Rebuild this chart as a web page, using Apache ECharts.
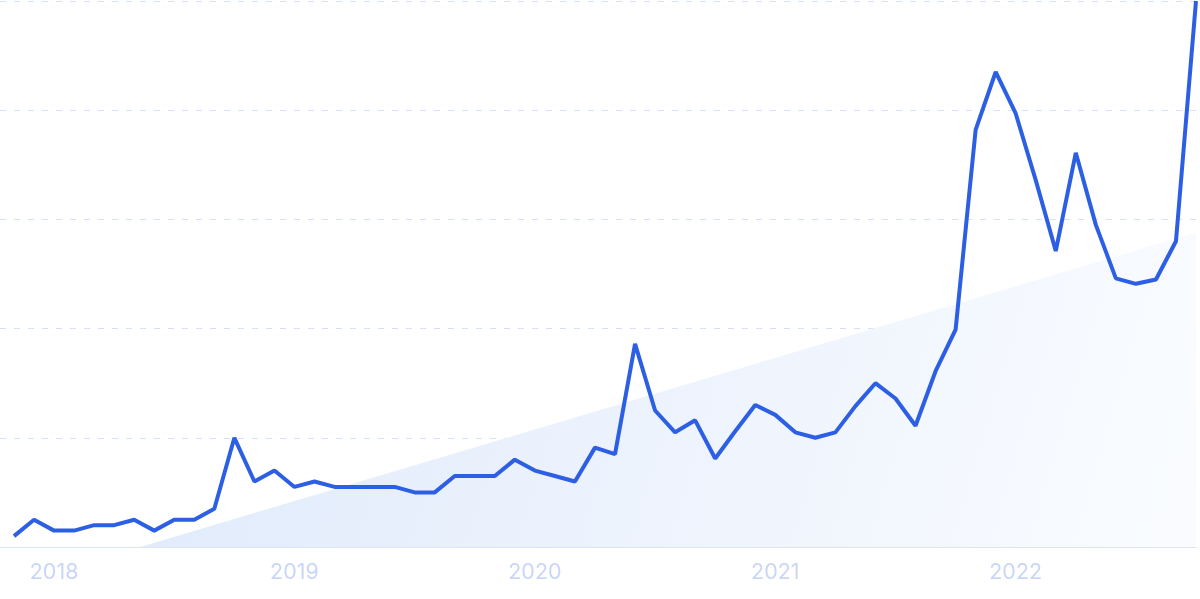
<!DOCTYPE html>
<html>
<head>
<meta charset="utf-8">
<script src="https://cdn.jsdelivr.net/npm/echarts@6/dist/echarts.min.js"></script>
<style>
html,body{margin:0;padding:0;background:#fff;}
#chart{width:1200px;height:599px;}
</style>
</head>
<body>
<div id="chart"></div>
<script>
// Monthly categories Nov 2017 .. Oct 2022
const months = [
 '2017-11','2017-12',
 '2018-01','2018-02','2018-03','2018-04','2018-05','2018-06','2018-07','2018-08','2018-09','2018-10','2018-11','2018-12',
 '2019-01','2019-02','2019-03','2019-04','2019-05','2019-06','2019-07','2019-08','2019-09','2019-10','2019-11','2019-12',
 '2020-01','2020-02','2020-03','2020-04','2020-05','2020-06','2020-07','2020-08','2020-09','2020-10','2020-11','2020-12',
 '2021-01','2021-02','2021-03','2021-04','2021-05','2021-06','2021-07','2021-08','2021-09','2021-10','2021-11','2021-12',
 '2022-01','2022-02','2022-03','2022-04','2022-05','2022-06','2022-07','2022-08','2022-09','2022-10'
];
const values = [
 0.10,0.25,
 0.15,0.15,0.20,0.20,0.25,0.15,0.25,0.25,0.35,1.00,0.60,0.70,
 0.55,0.60,0.55,0.55,0.55,0.55,0.50,0.50,0.65,0.65,0.65,0.80,
 0.70,0.65,0.60,0.91,0.85,1.86,1.25,1.05,1.16,0.81,1.06,1.30,
 1.21,1.05,1.00,1.05,1.29,1.50,1.36,1.11,1.61,1.99,3.82,4.35,
 3.97,3.36,2.71,3.61,2.95,2.46,2.41,2.45,2.80,5.00
];
// Decorative trend wedge (month index, value)
const trendX = [6.3, 59];
const trendY = [0, 2.88];
const yTicks = [0,1,2,3,4,5];

const chart = echarts.init(document.getElementById('chart'));
chart.setOption({
  animation:false,
  backgroundColor:'#ffffff',
  grid:[
    {left:0,right:4,top:1,bottom:52},
    {left:14,right:4,top:1,bottom:52}
  ],
  xAxis:[
    {gridIndex:0,type:'value',min:0,max:1,show:true,
     axisLine:{show:true,lineStyle:{color:'#dbe4f8',width:1}},
     axisTick:{show:false},axisLabel:{show:false},splitLine:{show:false}},
    {gridIndex:1,type:'category',data:months,boundaryGap:false,
     axisLine:{show:false},axisTick:{show:false},splitLine:{show:false},
     axisLabel:{
       interval:(idx,val)=>val.endsWith('-01'),
       formatter:(val)=>val.slice(0,4),
       color:'#cad6f6',fontSize:21.5,fontFamily:'Inter',margin:15
     }},
    {gridIndex:1,type:'value',min:0,max:months.length-1,show:false}
  ],
  yAxis:[
    {gridIndex:0,type:'value',min:yTicks[0],max:yTicks[yTicks.length-1],interval:1,
     axisLine:{show:false},axisTick:{show:false},axisLabel:{show:false},
     splitLine:{show:true,lineStyle:{color:'#d3e0fb',width:1,type:[6,8]}}},
    {gridIndex:1,type:'value',min:0,max:5,show:false}
  ],
  series:[
    {type:'line',xAxisIndex:2,yAxisIndex:1,
     data:trendX.map((x,i)=>[x,trendY[i]]),
     symbol:'none',lineStyle:{width:0,opacity:0},
     areaStyle:{opacity:1,color:new echarts.graphic.LinearGradient(0,0,1,1,[
       {offset:0,color:'#dfeafb'},
       {offset:0.5,color:'#edf3fd'},
       {offset:1,color:'#fafcff'}
     ])},
     z:1},
    {type:'line',xAxisIndex:1,yAxisIndex:1,data:values,
     symbol:'none',lineStyle:{color:'#2d5fe4',width:4},z:5}
  ]
});
</script>
</body>
</html>
